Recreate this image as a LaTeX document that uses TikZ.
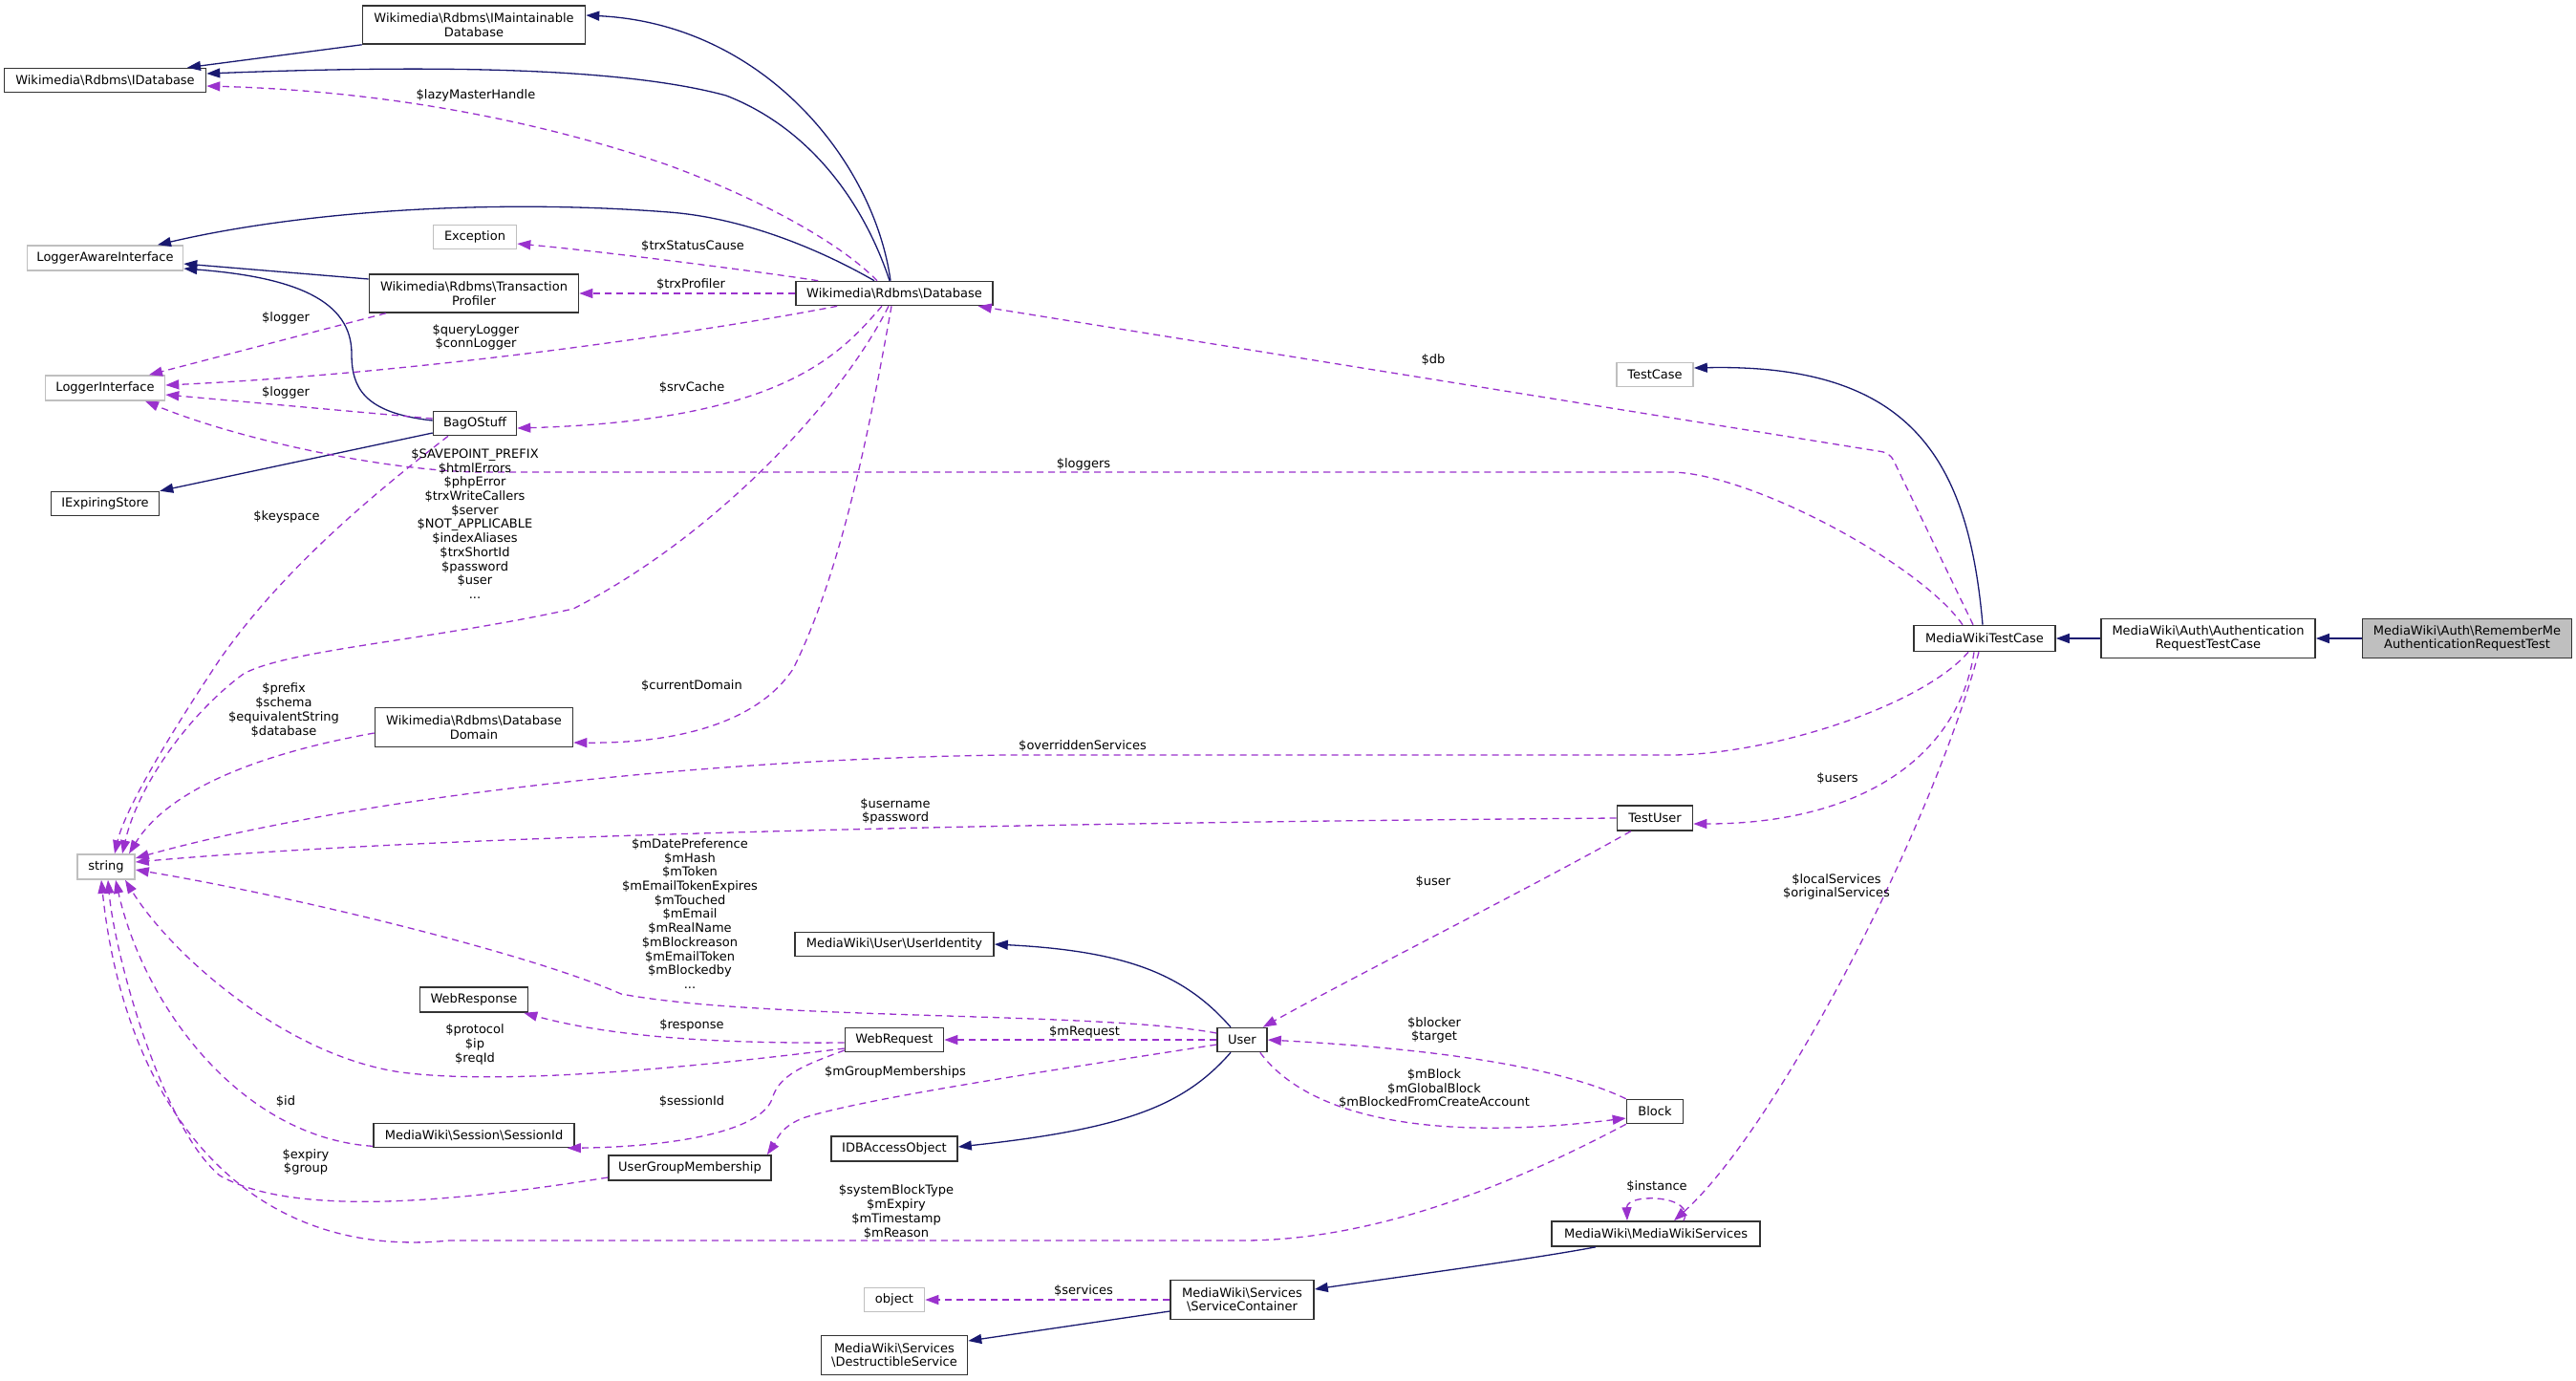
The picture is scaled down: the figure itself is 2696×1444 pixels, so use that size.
\documentclass[tikz,border=0pt]{standalone}
\usepackage{fontspec}
\setmainfont{DejaVu Sans}
\usetikzlibrary{arrows.meta,calc}
\definecolor{inhc}{HTML}{191970}
\definecolor{usec}{HTML}{9A32CD}
\definecolor{undoc}{HTML}{BFBFBF}
\newcommand\BSL{\textbackslash}
\begin{document}
\begin{tikzpicture}[x=1pt,y=-1pt,
  every node/.style={font=\fontsize{13pt}{14.7pt}\selectfont},
  cls/.style={draw=black!80,line width=1.6pt,inner sep=0pt,align=center,fill=white},
  ucls/.style={cls,draw=undoc},
  lbl/.style={align=center,inner sep=0pt},
  inh/.style={color=inhc,line width=1.3pt,-{Triangle[length=14pt,width=10pt]}},
  use/.style={color=usec,line width=1.3pt,dash pattern=on 7pt off 5pt,-{Triangle[length=14pt,width=10pt]}},
]
\useasboundingbox (0,0) rectangle (2696,1444);
% classes
\node[cls,fill=undoc,minimum width=219pt,minimum height=41pt] (rm) at (2582,668) {MediaWiki\BSL Auth\BSL RememberMe\\AuthenticationRequestTest};
\node[cls,minimum width=224pt,minimum height=41pt] (artc) at (2311,668) {MediaWiki\BSL Auth\BSL Authentication\\RequestTestCase};
\node[cls,minimum width=148pt,minimum height=27pt] (mwtc) at (2077,668) {MediaWikiTestCase};
\node[ucls,minimum width=80pt,minimum height=25pt] (tcase) at (1732,392) {TestCase};
\node[cls,minimum width=79pt,minimum height=26pt] (tuser) at (1732,856) {TestUser};
\node[cls,minimum width=59pt,minimum height=25pt] (block) at (1732,1163) {Block};
\node[cls,minimum width=218pt,minimum height=26pt] (mws) at (1733,1291) {MediaWiki\BSL MediaWikiServices};
\node[cls,minimum width=52pt,minimum height=25pt] (user) at (1300,1088) {User};
\node[cls,minimum width=103pt,minimum height=25pt] (wreq) at (936,1088) {WebRequest};
\node[cls,minimum width=208pt,minimum height=25pt] (uid) at (936,988) {MediaWiki\BSL User\BSL UserIdentity};
\node[cls,minimum width=132pt,minimum height=26pt] (idbao) at (936,1202) {IDBAccessObject};
\node[cls,minimum width=150pt,minimum height=41pt] (scont) at (1300,1360) {MediaWiki\BSL Services\\\BSL ServiceContainer};
\node[ucls,minimum width=63pt,minimum height=25pt] (obj) at (936,1360) {object};
\node[cls,minimum width=153pt,minimum height=41pt] (dserv) at (936,1418) {MediaWiki\BSL Services\\\BSL DestructibleService};
\node[cls,minimum width=170pt,minimum height=26pt] (ugm) at (722,1222) {UserGroupMembership};
\node[cls,minimum width=210pt,minimum height=25pt] (sid) at (496,1188) {MediaWiki\BSL Session\BSL SessionId};
\node[cls,minimum width=113pt,minimum height=26pt] (wresp) at (496,1046) {WebResponse};
\node[cls,minimum width=207pt,minimum height=41pt] (ddom) at (496,761) {Wikimedia\BSL Rdbms\BSL Database\\Domain};
\node[ucls,minimum width=60pt,minimum height=26pt] (str) at (111,907) {string};
\node[cls,minimum width=206pt,minimum height=25pt] (db) at (936,307) {Wikimedia\BSL Rdbms\BSL Database};
\node[cls,minimum width=233pt,minimum height=40pt] (imdb) at (496,26) {Wikimedia\BSL Rdbms\BSL IMaintainable\\Database};
\node[cls,minimum width=211pt,minimum height=25pt] (idb) at (110,84) {Wikimedia\BSL Rdbms\BSL IDatabase};
\node[ucls,minimum width=163pt,minimum height=26pt] (lai) at (110,270) {LoggerAwareInterface};
\node[ucls,minimum width=87pt,minimum height=25pt] (exc) at (497,248) {Exception};
\node[cls,minimum width=219pt,minimum height=40pt] (tprof) at (496,307) {Wikimedia\BSL Rdbms\BSL Transaction\\Profiler};
\node[ucls,minimum width=125pt,minimum height=26pt] (li) at (110,406) {LoggerInterface};
\node[cls,minimum width=87pt,minimum height=25pt] (bag) at (497,443) {BagOStuff};
\node[cls,minimum width=113pt,minimum height=25pt] (ies) at (110,527) {IExpiringStore};

% inheritance
\draw[inh] (imdb.south west) -- ([xshift=86pt]idb.north);
\draw[inh] ([xshift=-4pt]db.north) .. controls (915,170) and (800,25) .. ([yshift=10pt]imdb.east);
\draw[inh] ([xshift=-5pt]db.north) .. controls (905,215) and (850,135) .. (760,100) .. controls (650,70) and (450,68) .. ([yshift=7pt]idb.east);
\draw[inh] ([xshift=-21pt]db.north) .. controls (860,262) and (780,228) .. (700,222) .. controls (520,208) and (320,220) .. ([xshift=55pt]lai.north);
\draw[inh] ([yshift=15pt]tprof.west) -- ([yshift=-6pt]lai.east);
\draw[inh] ([yshift=3pt]bag.west) .. controls (380,432) and (368,405) .. (368,370) .. controls (368,315) and (310,290) .. ([yshift=-11pt]lai.east);
\draw[inh] ([yshift=-10pt]bag.west) -- (ies.north east);
\draw[inh] ([xshift=-2pt]mwtc.north) .. controls (2060,480) and (2000,380) .. ([yshift=7pt]tcase.east);
\draw[inh] (artc.west) -- (mwtc.east);
\draw[inh] (rm.west) -- (artc.east);
\draw[inh] ([xshift=-12pt]user.north) .. controls (1240,1020) and (1180,995) .. (uid.east);
\draw[inh] ([xshift=-12pt]user.south) .. controls (1240,1156) and (1180,1181) .. ([yshift=2pt]idbao.east);
\draw[inh] ([xshift=-63pt]mws.south) .. controls (1600,1318) and (1450,1338) .. ([yshift=11pt]scont.east);
\draw[inh] ([yshift=-12pt]scont.west) -- ([yshift=15pt]dserv.east);

% usage
\draw[use] ([xshift=-18pt]db.north) .. controls (880,255) and (800,210) .. (700,173) .. controls (560,125) and (400,95) .. ([yshift=-6pt]idb.east);
\draw[use] ([xshift=24pt]db.north west) .. controls (780,282) and (620,262) .. ([yshift=-7pt]exc.east);
\draw[use] (db.west) -- (tprof.east);
\draw[use] ([xshift=44pt]db.south west) .. controls (750,345) and (450,390) .. ([yshift=3pt]li.east);
\draw[use] ([xshift=18pt]tprof.south west) -- ([xshift=46pt]li.north);
\draw[use] ([yshift=5pt]bag.west) -- ([yshift=-7pt]li.east);
\draw[use] ([xshift=-13pt]db.south) .. controls (880,370) and (820,440) .. ([yshift=-5pt]bag.east);
\draw[use] ([xshift=-23pt]mwtc.north) .. controls (2010,590) and (1830,494) .. (1748,494) -- (500,494) .. controls (400,492) and (250,460) .. ([xshift=42pt]li.south);
\draw[use,rounded corners=8pt] ([xshift=-12pt]mwtc.north) -- (1978,474) -- ([xshift=-16pt]db.south east);
\draw[use] ([xshift=-6pt]db.south) .. controls (880,420) and (750,560) .. (600,637) .. controls (450,670) and (300,680) .. (255,705) .. controls (200,745) and (145,820) .. ([xshift=17pt]str.north);
\draw[use] ([xshift=-28pt]bag.south) .. controls (400,510) and (300,590) .. (230,690) .. controls (170,780) and (130,850) .. ([xshift=9pt]str.north);
\draw[use] ([xshift=-3pt]db.south) .. controls (910,450) and (880,600) .. (830,700) .. controls (790,760) and (700,778) .. ([yshift=-16pt]ddom.east);
\draw[use] ([yshift=-6pt]ddom.west) .. controls (290,785) and (180,820) .. ([xshift=24pt]str.north);
\draw[use] ([xshift=-17pt]mwtc.south) .. controls (2010,740) and (1850,790) .. (1748,790) -- (1050,790) .. controls (700,795) and (350,840) .. ([yshift=9pt]str.east);
\draw[use] (tuser.west) .. controls (1200,860) and (500,870) .. ([yshift=5pt]str.east);
\draw[use] ([xshift=-11pt]mwtc.south) .. controls (2050,790) and (1950,862) .. ([yshift=-6pt]tuser.east);
\draw[use] ([xshift=15pt]tuser.south west) .. controls (1600,930) and (1420,1020) .. ([xshift=-5pt]user.north east);
\draw[use] ([yshift=7pt]user.west) .. controls (1150,1058) and (800,1068) .. (650,1040) .. controls (560,1000) and (320,940) .. ([yshift=-3pt]str.east);
\draw[use] (user.west) -- (wreq.east);
\draw[use] ([yshift=-3pt]wreq.west) .. controls (750,1092) and (640,1085) .. ([xshift=-5pt]wresp.south east);
\draw[use] ([yshift=-9pt]wreq.west) .. controls (700,1120) and (520,1135) .. (420,1122) .. controls (300,1105) and (180,1000) .. ([xshift=20pt]str.south);
\draw[use] ([yshift=-11pt]wreq.west) .. controls (840,1115) and (815,1125) .. (808,1150) .. controls (795,1185) and (700,1200) .. ([xshift=-8pt]sid.south east);
\draw[use] ([yshift=2pt]sid.south west) .. controls (250,1190) and (150,1050) .. ([xshift=10pt]str.south);
\draw[use] ([yshift=-5pt]user.west) .. controls (1100,1120) and (900,1150) .. (840,1170) .. controls (815,1180) and (812,1195) .. ([xshift=-5pt]ugm.north east);
\draw[use] ([yshift=-10pt]ugm.west) .. controls (450,1262) and (300,1270) .. (230,1230) .. controls (170,1180) and (120,1000) .. ([xshift=2pt]str.south);
\draw[use] (block.south west) .. controls (1600,1230) and (1450,1298) .. (1300,1298) -- (470,1298) .. controls (250,1320) and (130,1150) .. ([xshift=-5pt]str.south);
\draw[use] ([xshift=-8pt]user.south east) .. controls (1370,1170) and (1500,1195) .. ([yshift=-7pt]block.west);
\draw[use] (block.north west) .. controls (1650,1125) and (1550,1100) .. (user.east);
\draw[use] ([xshift=-6pt]mwtc.south) .. controls (2020,870) and (1860,1180) .. ([xshift=19pt]mws.north);
\draw[use] ([xshift=29pt]mws.north) .. controls (1776,1250) and (1702,1248) .. ([xshift=-30pt]mws.north);
\draw[use] (scont.west) -- (obj.east);

% labels
\node[lbl] (l1) at (498,100) {\$lazyMasterHandle};
\node[lbl] (l2) at (725,258) {\$trxStatusCause};
\node[lbl] (l3) at (723,298) {\$trxProfiler};
\node[lbl] (l4) at (498,353) {\$queryLogger\\\$connLogger};
\node[lbl] (l5) at (299,333) {\$logger};
\node[lbl] (l6) at (299,411) {\$logger};
\node[lbl] (l7) at (724,406) {\$srvCache};
\node[lbl] (l8) at (1134,486) {\$loggers};
\node[lbl] (l9) at (1500,377) {\$db};
\node[lbl] (l10) at (497,548) {\$SAVEPOINT\_PREFIX\\\$htmlErrors\\\$phpError\\\$trxWriteCallers\\\$server\\\$NOT\_APPLICABLE\\\$indexAliases\\\$trxShortId\\\$password\\\$user\\...};
\node[lbl] (l11) at (300,541) {\$keyspace};
\node[lbl] (l12) at (724,718) {\$currentDomain};
\node[lbl] (l13) at (297,743) {\$prefix\\\$schema\\\$equivalentString\\\$database};
\node[lbl] (l14) at (1133,781) {\$overriddenServices};
\node[lbl] (l15) at (937,849) {\$username\\\$password};
\node[lbl] (l16) at (1923,815) {\$users};
\node[lbl] (l17) at (1500,923) {\$user};
\node[lbl] (l18) at (722,956) {\$mDatePreference\\\$mHash\\\$mToken\\\$mEmailTokenExpires\\\$mTouched\\\$mEmail\\\$mRealName\\\$mBlockreason\\\$mEmailToken\\\$mBlockedby\\...};
\node[lbl] (l19) at (1135,1080) {\$mRequest};
\node[lbl] (l20) at (724,1073) {\$response};
\node[lbl] (l21) at (497,1093) {\$protocol\\\$ip\\\$reqId};
\node[lbl] (l22) at (724,1152) {\$sessionId};
\node[lbl] (l23) at (299,1152) {\$id};
\node[lbl] (l24) at (937,1122) {\$mGroupMemberships};
\node[lbl] (l25) at (320,1216) {\$expiry\\\$group};
\node[lbl] (l26) at (938,1268) {\$systemBlockType\\\$mExpiry\\\$mTimestamp\\\$mReason};
\node[lbl] (l27) at (1501,1139) {\$mBlock\\\$mGlobalBlock\\\$mBlockedFromCreateAccount};
\node[lbl] (l28) at (1501,1078) {\$blocker\\\$target};
\node[lbl] (l29) at (1922,928) {\$localServices\\\$originalServices};
\node[lbl] (l30) at (1734,1241) {\$instance};
\node[lbl] (l31) at (1134,1350) {\$services};
\end{tikzpicture}
\end{document}
